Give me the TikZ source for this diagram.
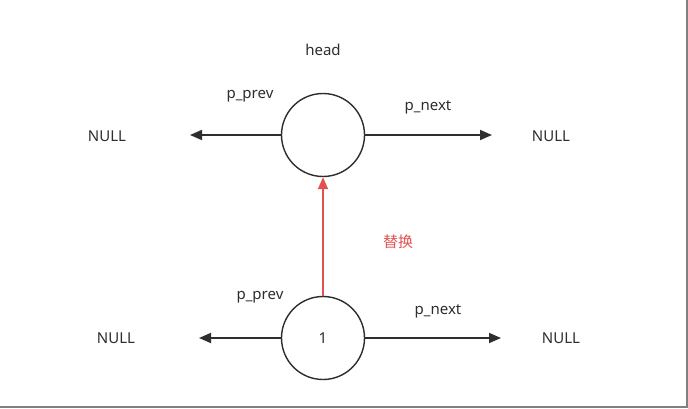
\documentclass[tikz,border=0pt]{standalone}
\usepackage{fontspec}
\setmainfont{Noto Sans}
\newfontfamily\cjk{Noto Sans CJK SC}
\usetikzlibrary{arrows.meta}
\definecolor{ink}{HTML}{2E2E2E}
\definecolor{redink}{HTML}{E05252}
\definecolor{frame}{HTML}{808080}
\tikzset{
  nodecircle/.style={circle,draw=ink,line width=1.4pt,minimum size=83pt,inner sep=0pt,font=\fontsize{15pt}{18pt}\selectfont,text=ink},
  lbl/.style={font=\fontsize{15pt}{18pt}\selectfont,text=ink,inner sep=0pt},
  ptr/.style={draw=ink,line width=1.8pt,-{Triangle[length=12pt,width=10pt]}},
  swap/.style={draw=redink,line width=1.6pt,-{Triangle[length=12pt,width=10pt]}},
}
\begin{document}
\begin{tikzpicture}[x=1pt,y=1pt]
\useasboundingbox (0,0) rectangle (688,408);
\fill[white] (0,0) rectangle (688,408);
\draw[frame,line width=2.5pt] (0,1.25) -- (686.75,1.25) -- (686.75,408);
% nodes
\node[nodecircle] (head) at (323,273) {};
\node[nodecircle] (one) at (323,70) {1};
\coordinate (hl) at (190,273);
\coordinate (hr) at (492,273);
\coordinate (ol) at (199,70);
\coordinate (or) at (501,70);
% labels
\node[lbl] (headlbl) at (323,358) {head};
\node[lbl] (hprev) at (250,312) {p\_prev};
\node[lbl] (hnext) at (428,301) {p\_next};
\node[lbl] (hnull1) at (107,272) {NULL};
\node[lbl] (hnull2) at (551,272) {NULL};
\node[lbl] (oprev) at (260,111) {p\_prev};
\node[lbl] (onext) at (438,97) {p\_next};
\node[lbl] (onull1) at (116,70) {NULL};
\node[lbl] (onull2) at (561,70) {NULL};
\node[lbl,text=redink,font=\cjk\fontsize{15pt}{18pt}\selectfont] (swaplbl) at (398,166) {替换};
% connectors
\draw[ptr] (head.west) -- (hl);
\draw[ptr] (head.east) -- (hr);
\draw[ptr] (one.west) -- (ol);
\draw[ptr] (one.east) -- (or);
\draw[swap] (one.north) -- (head.south);
\end{tikzpicture}
\end{document}
